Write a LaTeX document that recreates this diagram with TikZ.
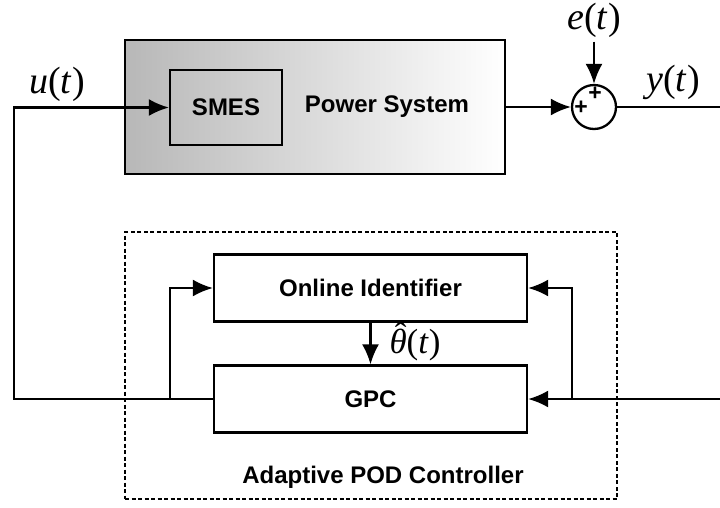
\documentclass[tikz,border=0pt]{standalone}
\usepackage{fontspec}
\setmainfont{Liberation Sans}
\newfontfamily\sigfont{Liberation Serif}
\usetikzlibrary{arrows.meta}
\begin{document}
\begin{tikzpicture}[
        x=1pt,
        y=-1pt,
        line width=2.3pt,
        font=\fontsize{24}{28}\selectfont\bfseries,
        block/.style={draw, minimum width=313pt, minimum height=67pt, inner sep=0pt},
        sig/.style={font=\fontsize{38}{40}\selectfont\sigfont},
        plus/.style={font=\fontsize{23}{23}\selectfont\bfseries, inner sep=0pt},
        arr/.style={-{Latex[length=20pt,width=17pt]}}
    ]
    \useasboundingbox (0,0) rectangle (720,507);

    % Power system
    \node[draw, left color=black!28, right color=white,
        minimum width=380pt, minimum height=134pt] (ps) at (315,107) {};
    \node[draw, minimum width=112pt, minimum height=75pt] (smes) at (226,107.5) {SMES};
    \node (pslab) at (387,107) {Power System};

    % Summing junction
    \node[draw, circle, minimum size=44pt, inner sep=0pt] (sum) at (594,107) {};
    \node[plus] (plusl) at (581,108) {+};
    \node[plus] (plust) at (595,94) {+};

    % Signals
    \node[sig] (elab) at (594,20) {\textit{e}(\textit{t})};
    \node[sig] (ylab) at (673,82) {\textit{y}(\textit{t})};
    \node[sig] (ulab) at (57,84) {\textit{u}(\textit{t})};

    % Adaptive controller
    \node[draw, dash pattern=on 4pt off 2.5pt, line width=1.6pt,
        minimum width=492pt, minimum height=267pt] (pod) at (371,365.5) {};
    \node[block] (oid) at (370.5,288) {Online Identifier};
    \node[block] (gpc) at (370.5,399) {GPC};
    \node (podlab) at (383,477) {Adaptive POD Controller};
    \node[sig, font=\fontsize{35}{38}\selectfont\sigfont, inner sep=1pt] (thlab) at (415,345)
        {\ooalign{\textit{θ}\cr\hidewidth\kern0.14em\raisebox{0.2em}{ˆ}\hidewidth\cr}(\textit{t})};

    % Connectors
    \coordinate (uturn) at (14,399);
    \coordinate (lsplit) at (170,399);
    \coordinate (rsplit) at (572,399);
    \coordinate (yin) at (720,399);
    \coordinate (yout) at (720,107);

    \draw[arr] (gpc.west) -- (uturn) |- (smes.west);
    \draw[arr] (lsplit) |- (oid.west);
    \draw[arr] (ps.east) -- (sum.west);
    \draw[arr] (elab) -- (sum.north);
    \draw (sum.east) -- (yout);
    \draw[arr] (yin) -- (gpc.east);
    \draw[arr] (rsplit) |- (oid.east);
    \draw[arr] (oid) -- (gpc);

\end{tikzpicture}
\end{document}
